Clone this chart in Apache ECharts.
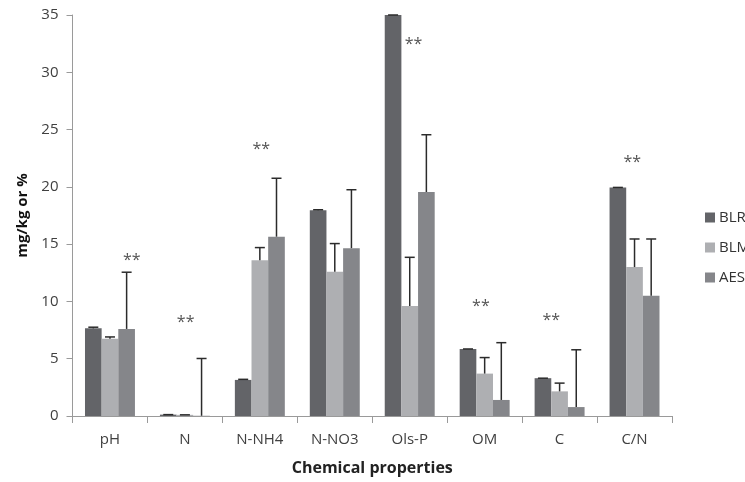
<!DOCTYPE html>
<html>
<head>
<meta charset="utf-8">
<script src="https://cdn.jsdelivr.net/npm/echarts@6/dist/echarts.min.js"></script>
<style>html,body{margin:0;padding:0;background:#fff}#c{width:745px;height:482px}</style>
</head>
<body>
<div id="c"></div>
<script>
const categories = ['pH', 'N', 'N-NH4', 'N-NO3', 'Ols-P', 'OM', 'C', 'C/N'];
const seriesNames = ['BLR', 'BLM', 'AES'];
const BLR = [7.65, 0.12, 3.15, 17.95, 35, 5.85, 3.3, 19.95];
const BLM = [6.75, 0.1, 13.6, 12.6, 9.6, 3.7, 2.15, 13.0];
const AES = [7.6, 0.02, 15.65, 14.65, 19.55, 1.4, 0.78, 10.5];
const BLR_err = [0.1, 0, 0.05, 0.05, 0, 0, 0, 0];
const BLM_err = [0.15, 0, 1.1, 2.45, 4.25, 1.4, 0.72, 2.45];
const AES_err = [4.95, 5.0, 5.1, 5.1, 5.0, 5.0, 5.0, 4.95];
const yTicks = [0, 5, 10, 15, 20, 25, 30, 35];
// significance marks "**"
const starCats = ['pH', 'N', 'N-NH4', 'Ols-P', 'OM', 'C', 'C/N'];
const starValues = [13.6, 8.2, 23.3, 32.4, 9.6, 8.3, 22.1];
const starShift = [0.29, 0.01, 0.02, 0.05, -0.05, -0.11, -0.03];

const colors = ['#636468', '#aeafb2', '#85868a'];
const FONT = 'Open Sans';
const CAT_GAP = 0.3333;
const values = [BLR, BLM, AES];
const errs = [BLR_err, BLM_err, AES_err];

function errSeries(si) {
  return {
    type: 'custom',
    name: seriesNames[si] + '_err',
    silent: true,
    z: 5,
    data: categories.map((c, i) => [i, values[si][i], values[si][i] + errs[si][i]]),
    renderItem: function (params, api) {
      const band = api.size([1, 0])[0];
      const bw = band * (1 - CAT_GAP) / 3;
      const base = api.coord([api.value(0), api.value(1)]);
      const top = api.coord([api.value(0), api.value(2)]);
      const x = base[0] + (si - 1) * bw;
      const cap = 5;
      return {
        type: 'group',
        children: [
          { type: 'line', shape: { x1: x, y1: base[1], x2: x, y2: top[1] }, style: { stroke: '#2b2b2b', lineWidth: 1.5 } },
          { type: 'line', shape: { x1: x - cap, y1: top[1], x2: x + cap, y2: top[1] }, style: { stroke: '#2b2b2b', lineWidth: 1.5 } }
        ]
      };
    }
  };
}

const chart = echarts.init(document.getElementById('c'));
chart.setOption({
  animation: false,
  textStyle: { fontFamily: FONT },
  grid: { left: 72.5, right: 73, top: 15, bottom: 66 },
  legend: {
    data: seriesNames,
    orient: 'vertical',
    left: 700,
    top: 205,
    itemWidth: 10,
    itemHeight: 10,
    itemGap: 15,
    icon: 'rect',
    textStyle: { fontFamily: FONT, fontSize: 15, color: '#333', padding: [0, 0, 0, -1] }
  },
  xAxis: {
    type: 'category',
    data: categories,
    name: 'Chemical properties',
    nameLocation: 'middle',
    nameGap: 44,
    nameTextStyle: { fontFamily: FONT, fontWeight: 'bold', fontSize: 16, color: '#222' },
    axisLine: { lineStyle: { color: '#9a9a9a', width: 1 } },
    axisTick: { show: true, length: 7, lineStyle: { color: '#9a9a9a' } },
    axisLabel: { fontFamily: FONT, fontSize: 15, color: '#404040', margin: 16 }
  },
  yAxis: {
    type: 'value',
    min: yTicks[0],
    max: yTicks[yTicks.length - 1],
    interval: 5,
    name: 'mg/kg or %',
    nameLocation: 'middle',
    nameGap: 42,
    nameTextStyle: { fontFamily: FONT, fontWeight: 'bold', fontSize: 15, color: '#111' },
    splitLine: { show: false },
    axisLine: { show: true, lineStyle: { color: '#9a9a9a', width: 1 } },
    axisTick: { show: true, length: 6, lineStyle: { color: '#9a9a9a' } },
    axisLabel: { fontFamily: FONT, fontSize: 15, color: '#404040', margin: 14 }
  },
  series: [
    ...seriesNames.map((n, si) => ({
      type: 'bar',
      name: n,
      data: values[si],
      barGap: '0%',
      barCategoryGap: '33.33%',
      itemStyle: { color: colors[si] }
    })),
    errSeries(0), errSeries(1), errSeries(2),
    {
      type: 'custom',
      name: 'stars',
      silent: true,
      z: 6,
      data: starCats.map((c, i) => [categories.indexOf(c), starValues[i], starShift[i]]),
      renderItem: function (params, api) {
        const band = api.size([1, 0])[0];
        const p = api.coord([api.value(0), api.value(1)]);
        return {
          type: 'text',
          style: {
            text: '**', x: p[0] + api.value(2) * band, y: p[1],
            textAlign: 'center', textVerticalAlign: 'middle',
            font: '16px ' + FONT, fill: '#555'
          }
        };
      }
    }
  ]
});
</script>
</body>
</html>
